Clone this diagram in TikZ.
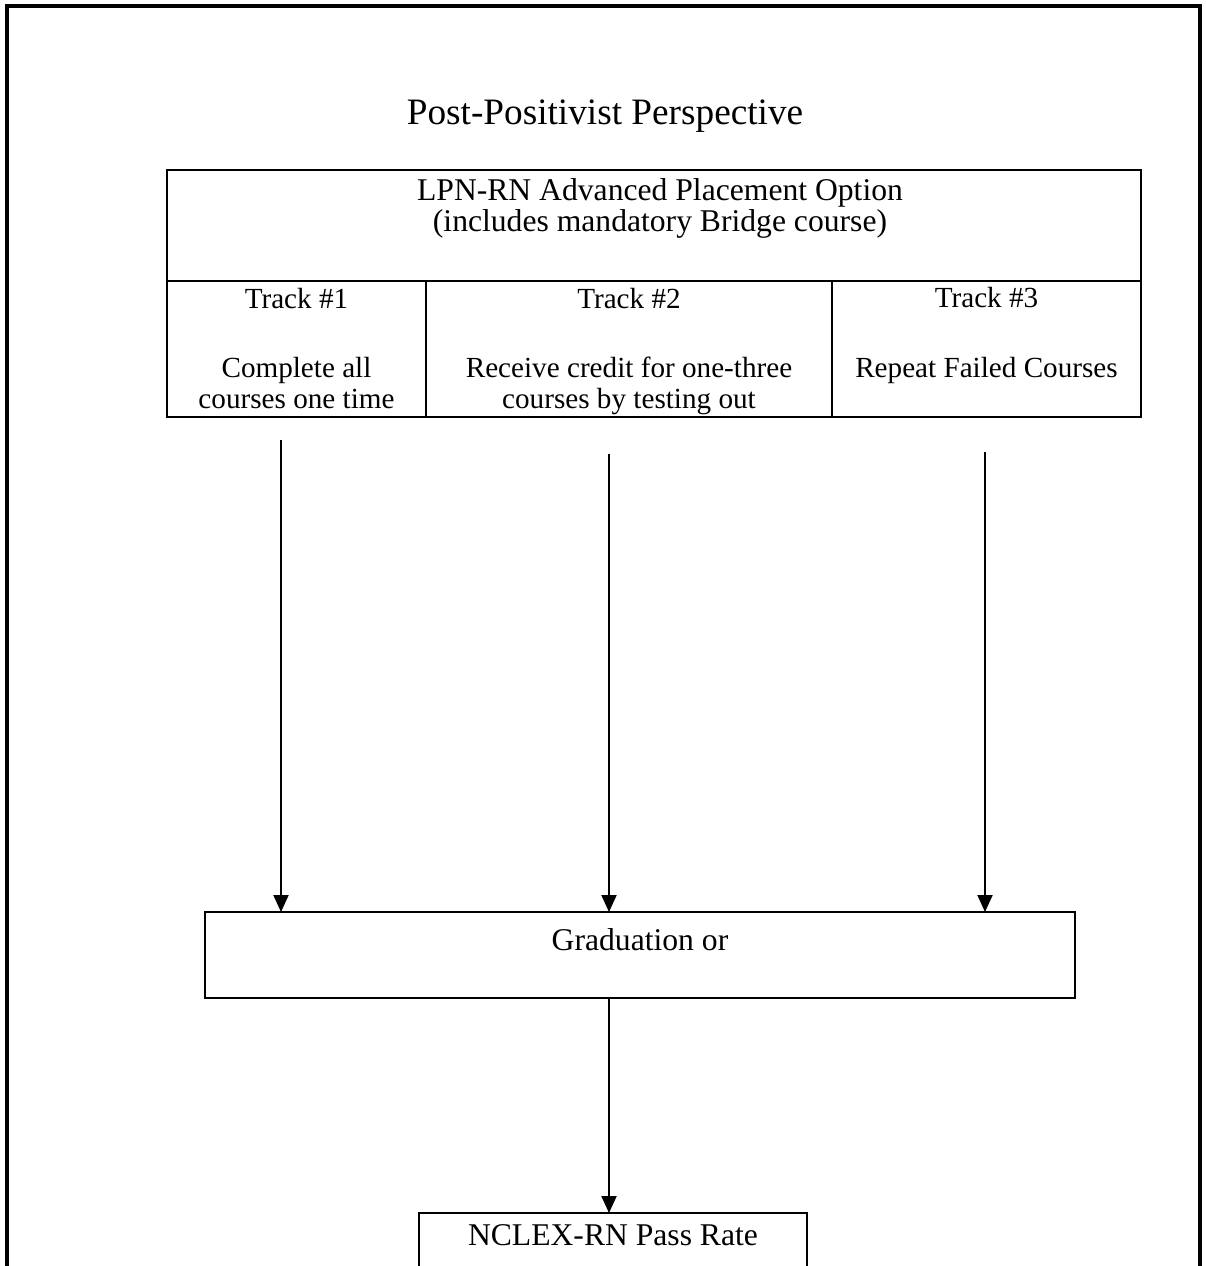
\documentclass[tikz,border=0pt]{standalone}
\usepackage{fontspec}
\setmainfont{Liberation Serif}
\usetikzlibrary{positioning, arrows.meta}

\begin{document}
\begin{tikzpicture}[
  box/.style={rectangle, draw, line width=1.6pt, outer sep=0pt, inner sep=0pt},
  headtext/.style={align=center, inner sep=0pt, font=\fontsize{18}{18.2}\selectfont},
  tracktext/.style={align=center, inner sep=0pt, font=\fontsize{16.6}{17.6}\selectfont},
  arrow/.style={-{Triangle[length=3.4mm, width=3mm]}, line width=1.2pt}
]

\useasboundingbox (0,0) rectangle (24.1,-25.32);
\clip (0,0) rectangle (24.1,-25.32);

% Frame
\draw[line width=1.8pt] (0.14,-26) |- (24.0,-0.12) -- (24.0,-26);

% Nodes
\node[anchor=base, inner sep=0pt, font=\fontsize{21.2}{24}\selectfont] (title) at (12.1,-2.5) {Post-Positivist Perspective};

\node[box, anchor=north west, minimum width=19.48cm, minimum height=2.22cm] (option) at (3.34,-3.4) {};
% base of a multi-line node sits on its last line
\node[headtext, anchor=base] (optiontext) at ([xshift=0.12cm, yshift=-1.24cm]option.north) {LPN-RN Advanced Placement Option\\(includes mandatory Bridge course)};

\node[box, anchor=north west, minimum width=5.18cm, minimum height=2.72cm] (track1) at (option.south west) {};
\node[box, right=0cm of track1, minimum width=8.12cm, minimum height=2.72cm] (track2) {};
\node[box, right=0cm of track2, minimum width=6.18cm, minimum height=2.72cm] (track3) {};

\node[tracktext, anchor=base] (track1text) at ([yshift=-2.54cm]track1.north) {Track \#1\\[21.7pt]Complete all\\courses one time};
\node[tracktext, anchor=base] (track2text) at ([yshift=-2.54cm]track2.north) {Track \#2\\[21.7pt]Receive credit for one-three\\courses by testing out};
\node[tracktext, anchor=base] (track3text) at ([yshift=-1.92cm]track3.north) {Track \#3\\[21.7pt]Repeat Failed Courses};

\node[box, anchor=north west, minimum width=17.4cm, minimum height=1.72cm] (grad) at (4.1,-18.24) {};
\node[headtext, anchor=base] (gradtext) at ([yshift=-0.76cm]grad.north) {Graduation or};

\node[box, anchor=north west, minimum width=7.76cm, minimum height=1.6cm] (nclex) at (8.38,-24.26) {};
\node[headtext, anchor=base] (nclextext) at ([yshift=-0.64cm]nclex.north) {NCLEX-RN Pass Rate};

\coordinate (start1) at (5.62,-8.8);
\coordinate (start2) at (12.18,-9.08);
\coordinate (start3) at (19.7,-9.04);

% Arrows
\draw[arrow] (start1) -- (start1 |- grad.north);
\draw[arrow] (start2) -- (start2 |- grad.north);
\draw[arrow] (start3) -- (start3 |- grad.north);
\draw[arrow] (start2 |- grad.south) -- (start2 |- nclex.north);

\end{tikzpicture}
\end{document}
